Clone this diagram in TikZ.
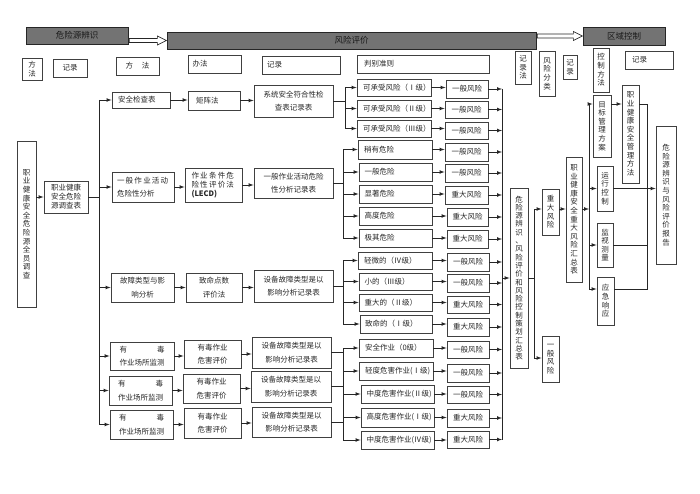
\documentclass[tikz,border=0pt]{standalone}
\usepackage{fontspec}
\setmainfont{Noto Sans CJK SC}
\def\boxat[#1](#2)(#3,#4)(#5,#6)#7{\node[#1, minimum width={(#5)-(#3)}, minimum height={(#6)-(#4)}] (#2) at ({((#3)+(#5))/2},{((#4)+(#6))/2}) {#7};}
\tikzset{
	box/.style={draw=black!75, line width=0.9pt, inner sep=1pt, text=black!85, align=center, font=\fontsize{7.5}{13.5}\selectfont},
	tight/.style={font=\fontsize{7.5}{9}\selectfont},
	vbox/.style={box, font=\fontsize{7.5}{8.6}\selectfont},
	lvfour/.style={box, text width=62, align=left},
	head/.style={draw=black!85, fill=black!55, line width=0.7pt, text=black!90, font=\fontsize{8.5}{10}\selectfont},
	link/.style={line width=0.7pt, draw=black!85},
}

\begin{document}
\begin{tikzpicture}[x=1pt, y=-1pt, >=latex]
		%%%%% START %%%%%
		\useasboundingbox (0,0) rectangle (700,494);
		
		\boxat[head](hdA)(26,27)(128,44){危险源辨识}
		\boxat[head](hdB)(167,32)(536,49){风险评价}
		\boxat[head](hdC)(583,27)(665,45){区域控制}
		\draw[link,fill=white] (hdA.east |- hdB.west) ++(1,-2) -- ++(28,0) -- ++(0,-2.5) -- ++(9,4.5) -- ++(-9,4.5) -- ++(0,-2.5) -- ++(-28,0) -- cycle;
		\draw[link,fill=white] (hdB.east |- hdC.west) ++(1,-2) -- ++(36,0) -- ++(0,-2.5) -- ++(9,4.5) -- ++(-9,4.5) -- ++(0,-2.5) -- ++(-36,0) -- cycle;
		
		\boxat[vbox](mA)(22,58)(42,80){方\\法}
		\boxat[box](rA)(53,59)(87,77){记录}
		\boxat[box](mB)(116,57)(159,75){方\hspace{1.2em}法}
		\boxat[box,text width=44,align=left](mC)(188,55)(241,73){办法}
		\boxat[box,text width=68,align=left](rB)(262,56)(340,74){记录}
		\boxat[box,text width=118,align=left](crit)(357,55)(489,73){判别准则}
		\boxat[vbox](rC)(515,51)(531,84){记\\录\\法}
		\boxat[vbox](cls)(539,51)(555,96){风\\险\\分\\类}
		\boxat[vbox](rD)(563,55)(577,79){记\\录}
		\boxat[vbox](mD)(593,48)(609,92){控\\制\\方\\法}
		\boxat[box,text width=34,align=left](rE)(625,51)(673,69){记录}
		
		%%%%% SURVEY %%%%%
		\boxat[vbox](svy)(17,141)(36,307){职\\业\\健\\康\\安\\全\\危\\险\\源\\全\\员\\调\\查}
		\boxat[box,tight](svt)(44,181)(88,213){职业健康\\安全危险\\源调查表}
		\coordinate (tk) at (99,0);
		\draw[link,->] (svt.west -| svy.east) -- (svt.west);
		
		\boxat[box,text width=46,align=left](a1)(112,92)(170,108){安全检查表}
		\boxat[box,text width=52,align=left](b1)(112,172)(174,202){一\,般\,作\,业\,活\,动\\危险性分析}
		\boxat[box](c1)(111,273)(174,302){故障类型与影\\响分析}
		\boxat[box](d1)(110,342)(174,370){有\hspace{4em}毒\\作业场所监测}
		\boxat[box](e1)(109,376)(172,405){有\hspace{4em}毒\\作业场所监测}
		\boxat[box](f1)(110,410)(173,439){有\hspace{4em}毒\\作业场所监测}
		
		\boxat[box,text width=36,align=left](a2)(188,91)(240,110){矩阵法}
		\boxat[box,tight,text width=44,align=left](b2)(185,168)(242,202){作\,业\,条\,件\,危\\险\,性\,评\,价\,法\\\textbf{(LECD)}}
		\boxat[box](c2)(186,273)(242,302){致命点数\\评价法}
		\boxat[box](d2)(184,340)(241,368){有毒作业\\危害评价}
		\boxat[box](e2)(183,374)(240,403){有毒作业\\危害评价}
		\boxat[box](f2)(184,408)(241,438){有毒作业\\危害评价}
		
		\boxat[box](a3)(254,85)(333,117){系统安全符合性检\\查表记录表}
		\boxat[box](b3)(254,168)(333,198){一般作业活动危险\\性分析记录表}
		\boxat[box](c3)(254,270)(333,302){设备故障类型是以\\影响分析记录表}
		\boxat[box](d3)(252,337)(331,368){设备故障类型是以\\影响分析记录表}
		\boxat[box](e3)(251,371)(331,402){设备故障类型是以\\影响分析记录表}
		\boxat[box](f3)(252,407)(331,437){设备故障类型是以\\影响分析记录表}
		
		\draw[link] (svt.east) -- (svt.east -| tk);
		\draw[link] (a1.west -| tk) -- (f1.west -| tk);
		\draw[link,->] (a1.west -| tk) -- (a1.west);
		\draw[link,->] (b1.west -| tk) -- (b1.west);
		\draw[link,->] (c1.west -| tk) -- (c1.west);
		\draw[link,->] (d1.west -| tk) -- (d1.west);
		\draw[link,->] (e1.west -| tk) -- (e1.west);
		\draw[link,->] (f1.west -| tk) -- (f1.west);
		
		\draw[link,->] (a1.east) -- (a1.east -| a2.west);
		\draw[link,->] (b1.east) -- (b1.east -| b2.west);
		\draw[link,->] (c1.east) -- (c1.east -| c2.west);
		\draw[link,->] (d1.east) -- (d1.east -| d2.west);
		\draw[link,->] (e1.east) -- (e1.east -| e2.west);
		\draw[link,->] (f1.east) -- (f1.east -| f2.west);
		\draw[link,->] (a2.east) -- (a2.east -| a3.west);
		\draw[link,->] (b2.east) -- (b2.east -| b3.west);
		\draw[link,->] (c2.east) -- (c2.east -| c3.west);
		\draw[link,->] (d2.east) -- (d2.east -| d3.west);
		\draw[link,->] (e2.east) -- (e2.east -| e3.west);
		\draw[link,->] (f2.east) -- (f2.east -| f3.west);
		
		%%%%% GRADES %%%%%
		\boxat[lvfour](g1a)(357,79)(431,96){可承受风险（Ⅰ级）}
		\boxat[lvfour](g1b)(357,100)(431,117){可承受风险（Ⅱ级）}
		\boxat[lvfour](g1c)(357,120)(431,137){可承受风险（Ⅲ级）}
		\boxat[lvfour](g2a)(358,140)(432,159){稍有危险}
		\boxat[lvfour](g2b)(359,163)(432,181){一般危险}
		\boxat[lvfour](g2c)(359,185)(432,203){显著危险}
		\boxat[lvfour](g2d)(359,207)(432,225){高度危险}
		\boxat[lvfour](g2e)(359,229)(432,247){极其危险}
		\boxat[lvfour](g3a)(358,252)(432,269){轻微的（Ⅳ级）}
		\boxat[lvfour](g3b)(359,273)(432,290){小的（Ⅲ级）}
		\boxat[lvfour](g3c)(359,294)(432,311){重大的（Ⅱ级）}
		\boxat[lvfour](g3d)(360,315)(432,333){致命的（Ⅰ级）}
		\boxat[lvfour](g4a)(359,339)(433,357){安全作业（0级）}
		\boxat[lvfour](g4b)(359,362)(433,380){轻度危害作业(Ⅰ级)}
		\boxat[lvfour](g4c)(361,385)(434,403){中度危害作业(Ⅱ级)}
		\boxat[lvfour](g4d)(361,408)(434,427){高度危害作业(Ⅰ级)}
		\boxat[lvfour](g4e)(361,431)(434,449){中度危害作业(Ⅳ级)}
		
		\boxat[box](h1a)(446,80)(488,98){一般风险}
		\boxat[box](h1b)(445,101)(488,118){一般风险}
		\boxat[box](h1c)(445,122)(488,139){一般风险}
		\boxat[box](h2a)(445,143)(488,161){一般风险}
		\boxat[box](h2b)(445,164)(488,182){一般风险}
		\boxat[box](h2c)(445,186)(488,204){重大风险}
		\boxat[box](h2d)(447,208)(488,226){重大风险}
		\boxat[box](h2e)(447,230)(488,248){重大风险}
		\boxat[box](h3a)(447,253)(489,271){一般风险}
		\boxat[box](h3b)(447,274)(489,292){一般风险}
		\boxat[box](h3c)(447,296)(489,313){重大风险}
		\boxat[box](h3d)(447,318)(489,336){重大风险}
		\boxat[box](h4a)(447,341)(489,358){一般风险}
		\boxat[box](h4b)(447,364)(489,382){一般风险}
		\boxat[box](h4c)(447,386)(489,403){一般风险}
		\boxat[box](h4d)(447,409)(489,427){重大风险}
		\boxat[box](h4e)(447,431)(489,448){重大风险}
		
		\coordinate (s1) at (345,0);
		\coordinate (s2) at (343,0);
		\coordinate (col) at (502,0);
		
		\draw[link] (a3.east) -- (a3.east -| s1);
		\draw[link] (g1a.west -| s1) -- (g1c.west -| s1);
		\draw[link,->] (g1a.west -| s1) -- (g1a.west);
		\draw[link,->] (g1b.west -| s1) -- (g1b.west);
		\draw[link,->] (g1c.west -| s1) -- (g1c.west);
		
		\draw[link] (b3.east) -- (b3.east -| s2);
		\draw[link] (g2a.west -| s2) -- (g2e.west -| s2);
		\draw[link,->] (g2a.west -| s2) -- (g2a.west);
		\draw[link,->] (g2b.west -| s2) -- (g2b.west);
		\draw[link,->] (g2c.west -| s2) -- (g2c.west);
		\draw[link,->] (g2d.west -| s2) -- (g2d.west);
		\draw[link,->] (g2e.west -| s2) -- (g2e.west);
		
		\draw[link] (c3.east) -- (c3.east -| s2);
		\draw[link] (g3a.west -| s2) -- (g3d.west -| s2);
		\draw[link,->] (g3a.west -| s2) -- (g3a.west);
		\draw[link,->] (g3b.west -| s2) -- (g3b.west);
		\draw[link,->] (g3c.west -| s2) -- (g3c.west);
		\draw[link,->] (g3d.west -| s2) -- (g3d.west);
		
		\draw[link] (d3.east) -- (d3.east -| s2);
		\draw[link] (e3.east) -- (e3.east -| s2);
		\draw[link] (f3.east) -- (f3.east -| s2);
		\draw[link] (g4a.west -| s2) -- (g4e.west -| s2);
		\draw[link,->] (g4a.west -| s2) -- (g4a.west);
		\draw[link,->] (g4b.west -| s2) -- (g4b.west);
		\draw[link,->] (g4c.west -| s2) -- (g4c.west);
		\draw[link,->] (g4d.west -| s2) -- (g4d.west);
		\draw[link,->] (g4e.west -| s2) -- (g4e.west);
		
		\draw[link,->] (g1a.east) -- (g1a.east -| h1a.west);
		\draw[link,->] (g1b.east) -- (g1b.east -| h1b.west);
		\draw[link,->] (g1c.east) -- (g1c.east -| h1c.west);
		\draw[link,->] (g2a.east) -- (g2a.east -| h2a.west);
		\draw[link,->] (g2b.east) -- (g2b.east -| h2b.west);
		\draw[link,->] (g2c.east) -- (g2c.east -| h2c.west);
		\draw[link,->] (g2d.east) -- (g2d.east -| h2d.west);
		\draw[link,->] (g2e.east) -- (g2e.east -| h2e.west);
		\draw[link,->] (g3a.east) -- (g3a.east -| h3a.west);
		\draw[link,->] (g3b.east) -- (g3b.east -| h3b.west);
		\draw[link,->] (g3c.east) -- (g3c.east -| h3c.west);
		\draw[link,->] (g3d.east) -- (g3d.east -| h3d.west);
		\draw[link,->] (g4a.east) -- (g4a.east -| h4a.west);
		\draw[link,->] (g4b.east) -- (g4b.east -| h4b.west);
		\draw[link,->] (g4c.east) -- (g4c.east -| h4c.west);
		\draw[link,->] (g4d.east) -- (g4d.east -| h4d.west);
		\draw[link,->] (g4e.east) -- (g4e.east -| h4e.west);
		
		\draw[link] (h1a.east -| col) -- (h4e.east -| col);
		\draw[link,->] (h1a.east) -- (h1a.east -| col);
		\draw[link,->] (h1b.east) -- (h1b.east -| col);
		\draw[link,->] (h1c.east) -- (h1c.east -| col);
		\draw[link,->] (h2a.east) -- (h2a.east -| col);
		\draw[link,->] (h2b.east) -- (h2b.east -| col);
		\draw[link,->] (h2c.east) -- (h2c.east -| col);
		\draw[link,->] (h2d.east) -- (h2d.east -| col);
		\draw[link,->] (h2e.east) -- (h2e.east -| col);
		\draw[link,->] (h3a.east) -- (h3a.east -| col);
		\draw[link,->] (h3b.east) -- (h3b.east -| col);
		\draw[link,->] (h3c.east) -- (h3c.east -| col);
		\draw[link,->] (h3d.east) -- (h3d.east -| col);
		\draw[link,->] (h4a.east) -- (h4a.east -| col);
		\draw[link,->] (h4b.east) -- (h4b.east -| col);
		\draw[link,->] (h4c.east) -- (h4c.east -| col);
		\draw[link,->] (h4d.east) -- (h4d.east -| col);
		\draw[link,->] (h4e.east) -- (h4e.east -| col);
		
		%%%%% CONTROL %%%%%
		\boxat[vbox,font=\fontsize{7.5}{8.3}\selectfont](sumT)(510,188)(528,368){危\\险\\源\\辨\\识\\、\\风\\险\\评\\价\\和\\风\\险\\控\\制\\策\\划\\汇\\总\\表}
		\boxat[vbox](maj)(542,189)(559,235){重\\大\\风\\险}
		\boxat[vbox](gen)(542,336)(559,382){一\\般\\风\\险}
		\boxat[vbox](mst)(566,157)(582,282){职\\业\\健\\康\\安\\全\\重\\大\\风\\险\\汇\\总\\表}
		\boxat[vbox](tgt)(593,95)(611,157){目\\标\\管\\理\\方\\案}
		\boxat[vbox](opr)(597,166)(613,211){运\\行\\控\\制}
		\boxat[vbox](mon)(597,223)(613,267){监\\视\\测\\量}
		\boxat[vbox](emg)(597,277)(614,325){应\\急\\响\\应}
		\boxat[vbox](mgm)(622,85)(639,183){职\\业\\健\\康\\安\\全\\管\\理\\方\\法}
		\boxat[vbox](rpt)(656,126)(676,264){危\\险\\源\\辨\\识\\与\\风\\险\\评\\价\\报\\告}
		
		\coordinate (jt) at (534,209);
		\coordinate (jb) at (534,358);
		\coordinate (kt) at (589,104);
		\coordinate (kb) at (589,289);
		\coordinate (lt) at (647,104);
		\coordinate (lb) at (647,289);
		
		\draw[link,->] (sumT.west -| col) -- (sumT.west);
		\draw[link] (sumT.east) -- (sumT.east -| jt);
		\draw[link] (jt) -- (jb);
		\draw[link,->] (jt) -- (jt -| maj.west);
		\draw[link,->] (jb) -- (jb -| gen.west);
		\draw[link,->] (jt -| maj.east) -- (jt -| mst.west);
		\draw[link,->] (jt -| mst.east) -- (jt -| kt);
		
		\draw[link] (kt) -- (kb);
		\draw[link,->] (kt) -- (kt -| tgt.west);
		\draw[link,->] (opr.west -| kt) -- (opr.west);
		\draw[link,->] (mon.west -| kt) -- (mon.west);
		\draw[link,->] (kb) -- (kb -| emg.west);
		\draw[link,->] (kt -| tgt.east) -- (kt -| mgm.west);
		
		\draw[link] (lt -| mgm.east) -- (lt) -- (lb) -- (lb -| emg.east);
		\draw[link,->] (opr.east) -- (opr.east -| rpt.west);
		\draw[link] (mon.east) -- (mon.east -| lt);
		
		%%%%% END %%%%%
	\end{tikzpicture}
\end{document}
